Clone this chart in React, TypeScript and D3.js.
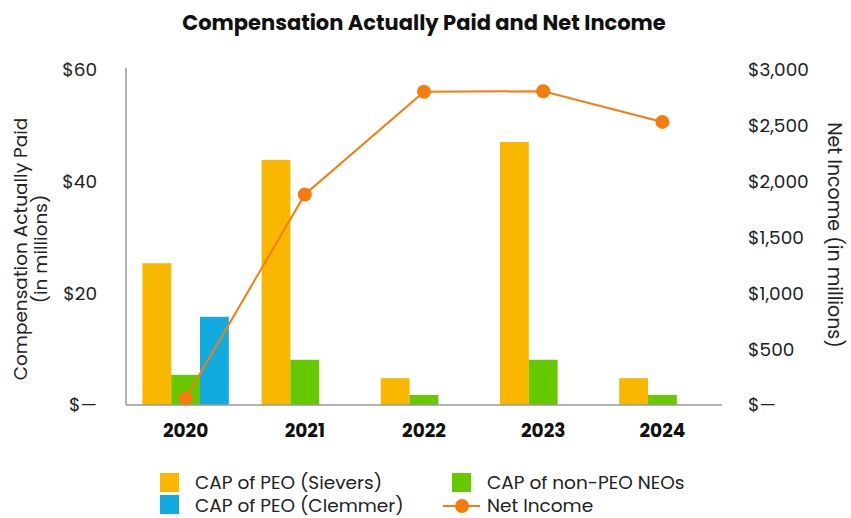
import React from "react";
import * as d3 from "d3";

const years = ["2020", "2021", "2022", "2023", "2024"];
const capSievers = [25.4, 43.9, 4.8, 47.1, 4.8];
const capClemmer: (number | null)[] = [15.8, null, null, null, null];
const capNonPeo = [5.4, 8.1, 1.8, 8.1, 1.8];
const netIncome = [60, 1885, 2805, 2810, 2535];
const leftTicks = [0, 20, 40, 60];
const rightTicks = [0, 500, 1000, 1500, 2000, 2500, 3000];

const W = 851, H = 518;
const left = 126, right = 722, top = 70, bottom = 405;
const FONT = "Poppins, 'Open Sans', Inter, sans-serif";

const C_Y = "#F9B700";
const C_B = "#12AADF";
const C_G = "#66C900";
const C_O = "#F57D0E";

export default function App() {
  const x = d3.scaleBand<string>().domain(years).range([left, right]).padding(0);
  const yL = d3.scaleLinear().domain([0, 60]).range([bottom, top]);
  const yR = d3.scaleLinear().domain([0, 3000]).range([bottom, top]);
  const groupW = x.bandwidth() * 0.725;
  const inner = d3.scaleBand<string>().domain(["s", "g", "b"]).range([0, groupW]).padding(0);

  const fmtL = (v: number) => (v === 0 ? "$\u2014" : `$${v}`);
  const fmtR = (v: number) => (v === 0 ? "$\u2014" : `$${d3.format(",")(v)}`);

  const line = d3
    .line<number>()
    .x((_, i) => x(years[i])! + x.bandwidth() / 2)
    .y((d) => yR(d));

  const bars: React.ReactNode[] = [];
  years.forEach((yr, i) => {
    const gx = x(yr)! + (x.bandwidth() - groupW) / 2;
    const series: [string, number | null, string][] = [
      ["s", capSievers[i], C_Y],
      ["g", capNonPeo[i], C_G],
      ["b", capClemmer[i], C_B],
    ];
    series.forEach(([k, v, c]) => {
      if (v == null) return;
      bars.push(
        <rect key={yr + k} x={gx + inner(k)!} y={yL(v)} width={inner.bandwidth()} height={bottom - yL(v)} fill={c} />
      );
    });
  });

  return (
    <svg width={W} height={H} style={{ display: "block", position: "absolute", left: 0, top: 0, background: "#fff" }} fontFamily={FONT}>
      <text x={424} y={30} textAnchor="middle" fontSize={21} fontWeight={700} fill="#111">
        Compensation Actually Paid and Net Income
      </text>
      {bars}
      <line x1={left} x2={left} y1={top - 2} y2={bottom} stroke="#9a9a9a" strokeWidth={1.5} />
      <line x1={left} x2={right} y1={bottom} y2={bottom} stroke="#9a9a9a" strokeWidth={1.5} />
      {leftTicks.map((t) => (
        <text key={"l" + t} x={97} y={yL(t)} dy="0.35em" textAnchor="end" fontSize={18.5} fill="#222">
          {fmtL(t)}
        </text>
      ))}
      {rightTicks.map((t) => (
        <text key={"r" + t} x={748} y={yR(t)} dy="0.35em" textAnchor="start" fontSize={18.5} fill="#222">
          {fmtR(t)}
        </text>
      ))}
      {years.map((yr) => (
        <text key={"x" + yr} x={x(yr)! + x.bandwidth() / 2} y={437} textAnchor="middle" fontSize={18.5} fontWeight={700} fill="#111">
          {yr}
        </text>
      ))}
      <g transform="translate(21,249) rotate(-90)">
        <text textAnchor="middle" dy="0.35em" fontSize={18.5} fill="#222">Compensation Actually Paid</text>
        <text y={20} textAnchor="middle" dy="0.35em" fontSize={18.5} fill="#222">(in millions)</text>
      </g>
      <g transform="translate(835,235) rotate(90)">
        <text textAnchor="middle" dy="0.35em" fontSize={19} fill="#222">Net Income (in millions)</text>
      </g>
      <path d={line(netIncome) || ""} fill="none" stroke={C_O} strokeWidth={2} />
      {netIncome.map((v, i) => (
        <circle key={"c" + i} cx={x(years[i])! + x.bandwidth() / 2} cy={yR(v)} r={7} fill={C_O} />
      ))}
      {/* legend */}
      <rect x={160} y={473} width={19} height={19} fill={C_Y} />
      <text x={195} y={483} dy="0.35em" fontSize={18.5} fill="#222">CAP of PEO (Sievers)</text>
      <rect x={160} y={495} width={19} height={19} fill={C_B} />
      <text x={195} y={506} dy="0.35em" fontSize={18.5} fill="#222">CAP of PEO (Clemmer)</text>
      <rect x={452} y={473} width={19} height={19} fill={C_G} />
      <text x={487} y={483} dy="0.35em" fontSize={18.5} fill="#222">CAP of non-PEO NEOs</text>
      <line x1={443} x2={480} y1={506} y2={506} stroke={C_O} strokeWidth={2} />
      <circle cx={462} cy={506} r={7} fill={C_O} />
      <text x={487} y={506} dy="0.35em" fontSize={18.5} fill="#222">Net Income</text>
    </svg>
  );
}
